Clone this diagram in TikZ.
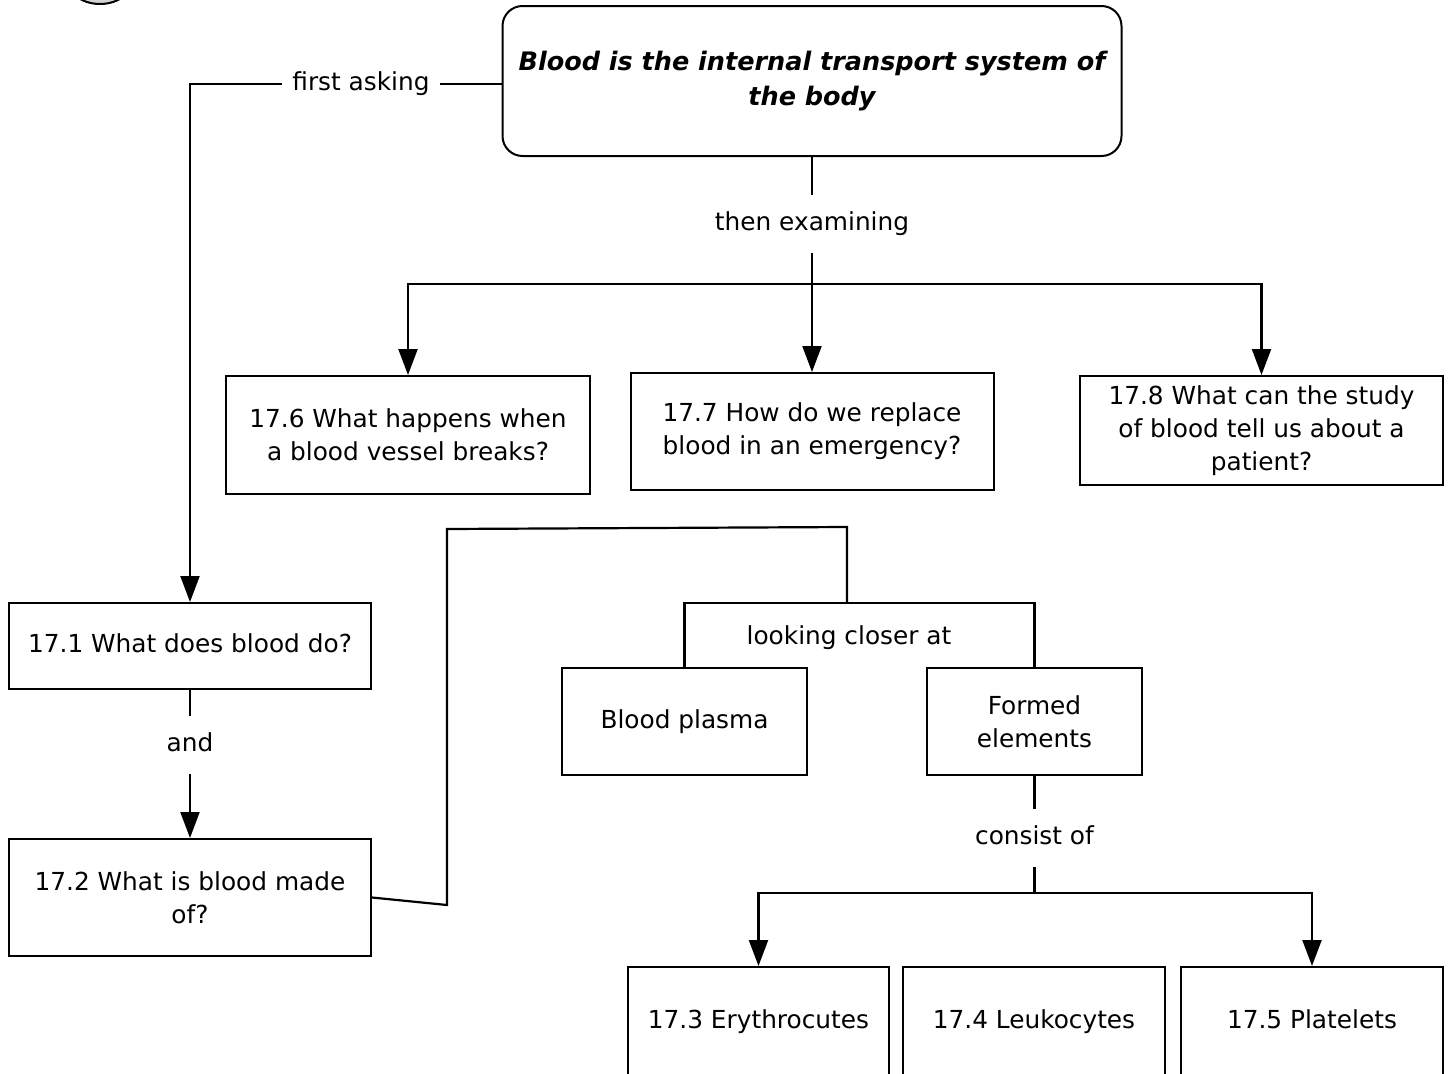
\documentclass[tikz,border=0pt]{standalone}
\usepackage{fontspec}
\setmainfont{DejaVu Sans}
\usetikzlibrary{arrows.meta}
\begin{document}
\begin{tikzpicture}[x=1pt,y=-1pt,
  every node/.style={font=\fontsize{24.8}{33}\selectfont},
  box/.style={draw, line width=2pt, align=center, inner sep=0pt},
  lbl/.style={inner sep=10pt},
  con/.style={line width=2.2pt},
  arr/.style={line width=2.2pt, -{Triangle[length=26pt,width=19pt]}}]
\useasboundingbox (0,0) rectangle (1452,1074);
\fill[white] (0,0) rectangle (1452,1074);
% clipped shape at top-left
\begin{scope}
\clip (0,0) rectangle (1452,1074);
\draw[line width=2pt, fill=gray!35] (100,-26) ellipse (36 and 30);
\end{scope}
% nodes
\node[box, rounded corners=20pt, minimum width=619pt, minimum height=150pt,
  font=\fontsize{25.5}{35}\selectfont\bfseries\itshape] (title) at (812,81)
  {Blood is the internal transport system of\\the body};
\node[box, minimum width=364pt, minimum height=118pt] (b176) at (408,435)
  {17.6 What happens when\\a blood vessel breaks?};
\node[box, minimum width=363pt, minimum height=117pt] (b177) at (812,431.5)
  {17.7 How do we replace\\blood in an emergency?};
\node[box, minimum width=363pt, minimum height=109pt] (b178) at (1261.5,430.5)
  {17.8 What can the study\\of blood tell us about a\\patient?};
\node[box, minimum width=362pt, minimum height=86pt] (b171) at (190,646)
  {17.1 What does blood do?\strut};
\node[box, minimum width=362pt, minimum height=117pt] (b172) at (190,897.5)
  {17.2 What is blood made\\of?};
\node[box, minimum width=245pt, minimum height=107pt] (plasma) at (684.5,721.5)
  {Blood plasma\strut};
\node[box, minimum width=215pt, minimum height=107pt] (formed) at (1034.5,721.5)
  {Formed\\elements};
\node[box, minimum width=261pt, minimum height=110pt] (b173) at (758.5,1022)
  {17.3 Erythrocutes\strut};
\node[box, minimum width=262pt, minimum height=110pt] (b174) at (1034,1022)
  {17.4 Leukocytes\strut};
\node[box, minimum width=262pt, minimum height=110pt] (b175) at (1312,1022)
  {17.5 Platelets\strut};
% labels
\node[lbl, inner xsep=10pt] (fa) at (361,84) {first asking\strut};
\node[lbl, inner ysep=12pt] (te) at (812,224) {then examining\strut};
\node[lbl, inner ysep=12pt] (and) at (190,745) {and\strut};
\node[lbl] (lc) at (849,638) {looking closer at\strut};
\node[lbl, inner ysep=12pt] (co) at (1034.5,838) {consist of\strut};
% junction coordinates
\coordinate (j1) at (812,284);
\coordinate (j2) at (1034.5,893);
\coordinate (k1) at (447,905);
\coordinate (k2) at (447,529);
\coordinate (k3) at (847,527);
\coordinate (k4) at (847,603);
% connectors
\draw[con] (title.west |- fa.east) -- (fa.east);
\draw[arr] (fa.west) -| (b171.north);
\draw[con] (title.south) -- (te.north);
\draw[con] (te.south) -- (j1);
\draw[arr] (j1) -| (b176.north);
\draw[arr] (j1) -- (b177.north);
\draw[arr] (j1) -| (b178.north);
\draw[con] (b171.south) -- (and.north);
\draw[arr] (and.south) -- (b172.north);
\draw[con] (b172.east) -- (k1) -- (k2) -- (k3) -- (k4);
\draw[con] (plasma.north) |- (k4) -| (formed.north);
\draw[con] (formed.south) -- (co.north);
\draw[con] (co.south) -- (j2);
\draw[arr] (j2) -| (b173.north);
\draw[arr] (j2) -| (b175.north);
\end{tikzpicture}
\end{document}
